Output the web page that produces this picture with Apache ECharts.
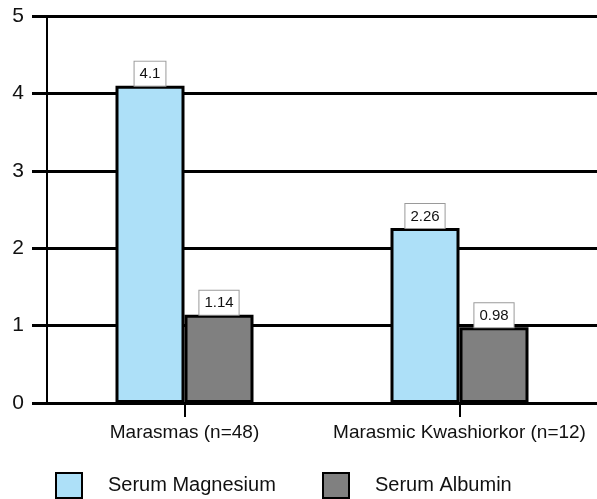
<!DOCTYPE html>
<html>
<head>
<meta charset="utf-8">
<script src="https://cdn.jsdelivr.net/npm/echarts@6/dist/echarts.min.js"></script>
<style>
html,body{margin:0;padding:0;background:#fff;}
#chart{width:597px;height:499px;}
</style>
</head>
<body>
<div id="chart"></div>
<script>
const categories = ['Marasmas (n=48)', 'Marasmic Kwashiorkor (n=12)'];
const seriesNames = ['Serum Magnesium', 'Serum Albumin'];
const magnesium = [4.1, 2.26];
const albumin = [1.14, 0.98];
const yTicks = [0, 1, 2, 3, 4, 5];

const FONT = "'Liberation Sans', Arial, sans-serif";
const chart = echarts.init(document.getElementById('chart'), null, {renderer: 'canvas'});

const labelStyle = {
  show: true,
  position: 'top',
  distance: 0,
  fontFamily: FONT,
  fontSize: 15,
  color: '#111',
  backgroundColor: '#fff',
  borderColor: '#9a9a9a',
  borderWidth: 1,
  padding: [5, 5, 4, 5],
  lineHeight: 15
};

chart.setOption({
  animation: false,
  backgroundColor: '#fff',
  textStyle: {fontFamily: FONT},
  grid: {left: 47, right: -4, top: 16, bottom: 96, containLabel: false},
  legend: [
    {
      data: [seriesNames[0]],
      left: 50, top: 467,
      itemWidth: 26, itemHeight: 25,
      icon: 'rect',
      itemStyle: {borderColor: '#000', borderWidth: 2},
      textStyle: {fontFamily: FONT, fontSize: 20, color: '#111', padding: [0, 0, 0, 21]}
    },
    {
      data: [seriesNames[1]],
      left: 317, top: 467,
      itemWidth: 26, itemHeight: 25,
      icon: 'rect',
      itemStyle: {borderColor: '#000', borderWidth: 2},
      textStyle: {fontFamily: FONT, fontSize: 20, color: '#111', padding: [0, 0, 0, 21]}
    }
  ],
  xAxis: {
    type: 'category',
    data: categories,
    axisLine: {show: true, lineStyle: {color: '#000', width: 3}},
    axisTick: {show: true, alignWithLabel: true, length: 14, lineStyle: {color: '#000', width: 2}},
    axisLabel: {fontFamily: FONT, fontSize: 19, color: '#111', margin: 20, interval: 0},
    splitLine: {show: false}
  },
  yAxis: {
    type: 'value',
    min: yTicks[0],
    max: yTicks[yTicks.length - 1],
    interval: 1,
    axisLine: {show: true, lineStyle: {color: '#000', width: 2}},
    axisTick: {show: true, length: 15, lineStyle: {color: '#000', width: 3}},
    axisLabel: {fontFamily: FONT, fontSize: 21, color: '#111', margin: 23},
    splitLine: {show: true, lineStyle: {color: '#000', width: 3}}
  },
  series: [
    {
      name: seriesNames[0],
      type: 'bar',
      data: magnesium,
      barWidth: 69,
      barGap: '0%',
      itemStyle: {color: '#ADE0F8', borderColor: '#000', borderWidth: 3},
      label: labelStyle
    },
    {
      name: seriesNames[1],
      type: 'bar',
      data: albumin,
      barWidth: 69,
      barGap: '0%',
      itemStyle: {color: '#808080', borderColor: '#000', borderWidth: 3},
      label: labelStyle
    }
  ]
});
</script>
</body>
</html>
